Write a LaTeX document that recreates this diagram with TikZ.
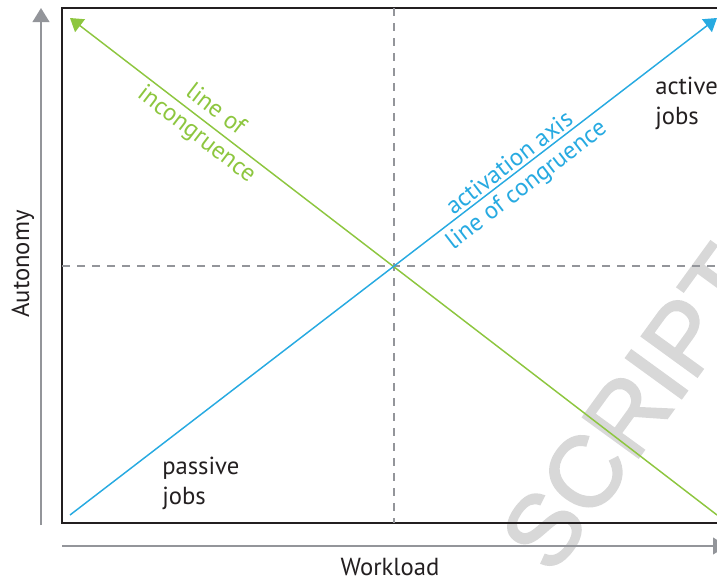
\documentclass[tikz,border=0pt]{standalone}
\usepackage{fontspec}
\setmainfont{PT Sans}
\newfontfamily\wmfont[FakeBold=2]{Liberation Sans}
\usetikzlibrary{arrows.meta}
\definecolor{cgreen}{RGB}{141,198,63}
\definecolor{cblue}{RGB}{39,170,225}
\definecolor{caxis}{RGB}{147,149,154}
\definecolor{cwm}{RGB}{216,216,216}
\definecolor{ctext}{RGB}{35,31,32}
\tikzset{
  frameline/.style={line width=1.5pt, ctext},
  axisline/.style={line width=1.5pt, caxis, -{Triangle[length=10.5pt,width=12.5pt]}},
  dashline/.style={line width=1.7pt, caxis, dash pattern=on 6pt off 5.25pt},
  greenline/.style={line width=1.1pt, cgreen, {Triangle[length=9.5pt,width=12pt]}-},
  blueline/.style={line width=1.1pt, cblue, -{Triangle[length=9.5pt,width=12pt]}},
  lbl/.style={font=\fontsize{18.5}{22}\selectfont, inner sep=0pt},
  txt/.style={font=\fontsize{18.5}{22}\selectfont, ctext, inner sep=0pt, align=left}
}
\begin{document}
\begin{tikzpicture}[x=0.75pt,y=-0.75pt]
\useasboundingbox (0,0) rectangle (717,583);
\clip (0,0) rectangle (717,583);
% watermark
\node[cwm, font=\fontsize{75}{75}\wmfont, rotate=54, inner sep=0pt] (wm) at (632,408) {SCRIPT};
% frame
\draw[frameline] (62,8) rectangle (740,523);
% axes
\coordinate (ya0) at (41,525);
\coordinate (ya1) at (41,8);
\coordinate (xa0) at (62,546);
\coordinate (xa1) at (727,546);
\draw[axisline] (ya0) -- (ya1);
\draw[axisline] (xa0) -- (xa1);
% dashed quadrant lines
\coordinate (O) at (394,266);
\coordinate (dT) at (394,8);
\coordinate (dB) at (394,523);
\coordinate (dL) at (62,266);
\coordinate (dR) at (717,266);
\draw[dashline] (dT) -- (dB);
\draw[dashline] (dL) -- (dR);
% diagonals
\coordinate (gE) at (70,18);
\coordinate (gS) at (717,515);
\coordinate (bS) at (70,515);
\coordinate (bE) at (717,18);
\draw[greenline] (gE) -- (gS)
  node[lbl, cgreen, pos=0.21, sloped, above=6pt] (lof) {line of}
  node[lbl, cgreen, pos=0.21, sloped, below=3pt] (inc) {incongruence};
\draw[blueline] (bS) -- (bE)
  node[lbl, cblue, pos=0.69, sloped, above=2pt] (act) {activation axis}
  node[lbl, cblue, pos=0.69, sloped, below=4pt] (cong) {line of congruence};
% texts
\node[txt, anchor=north west] (active) at (655,77) {active\\jobs};
\node[txt, anchor=north west] (passive) at (162,457) {passive\\jobs};
\node[txt, anchor=base] (work) at (390,575) {Workload};
\node[txt, anchor=base, rotate=90] (auto) at (29,264) {Autonomy};
\end{tikzpicture}
\end{document}
